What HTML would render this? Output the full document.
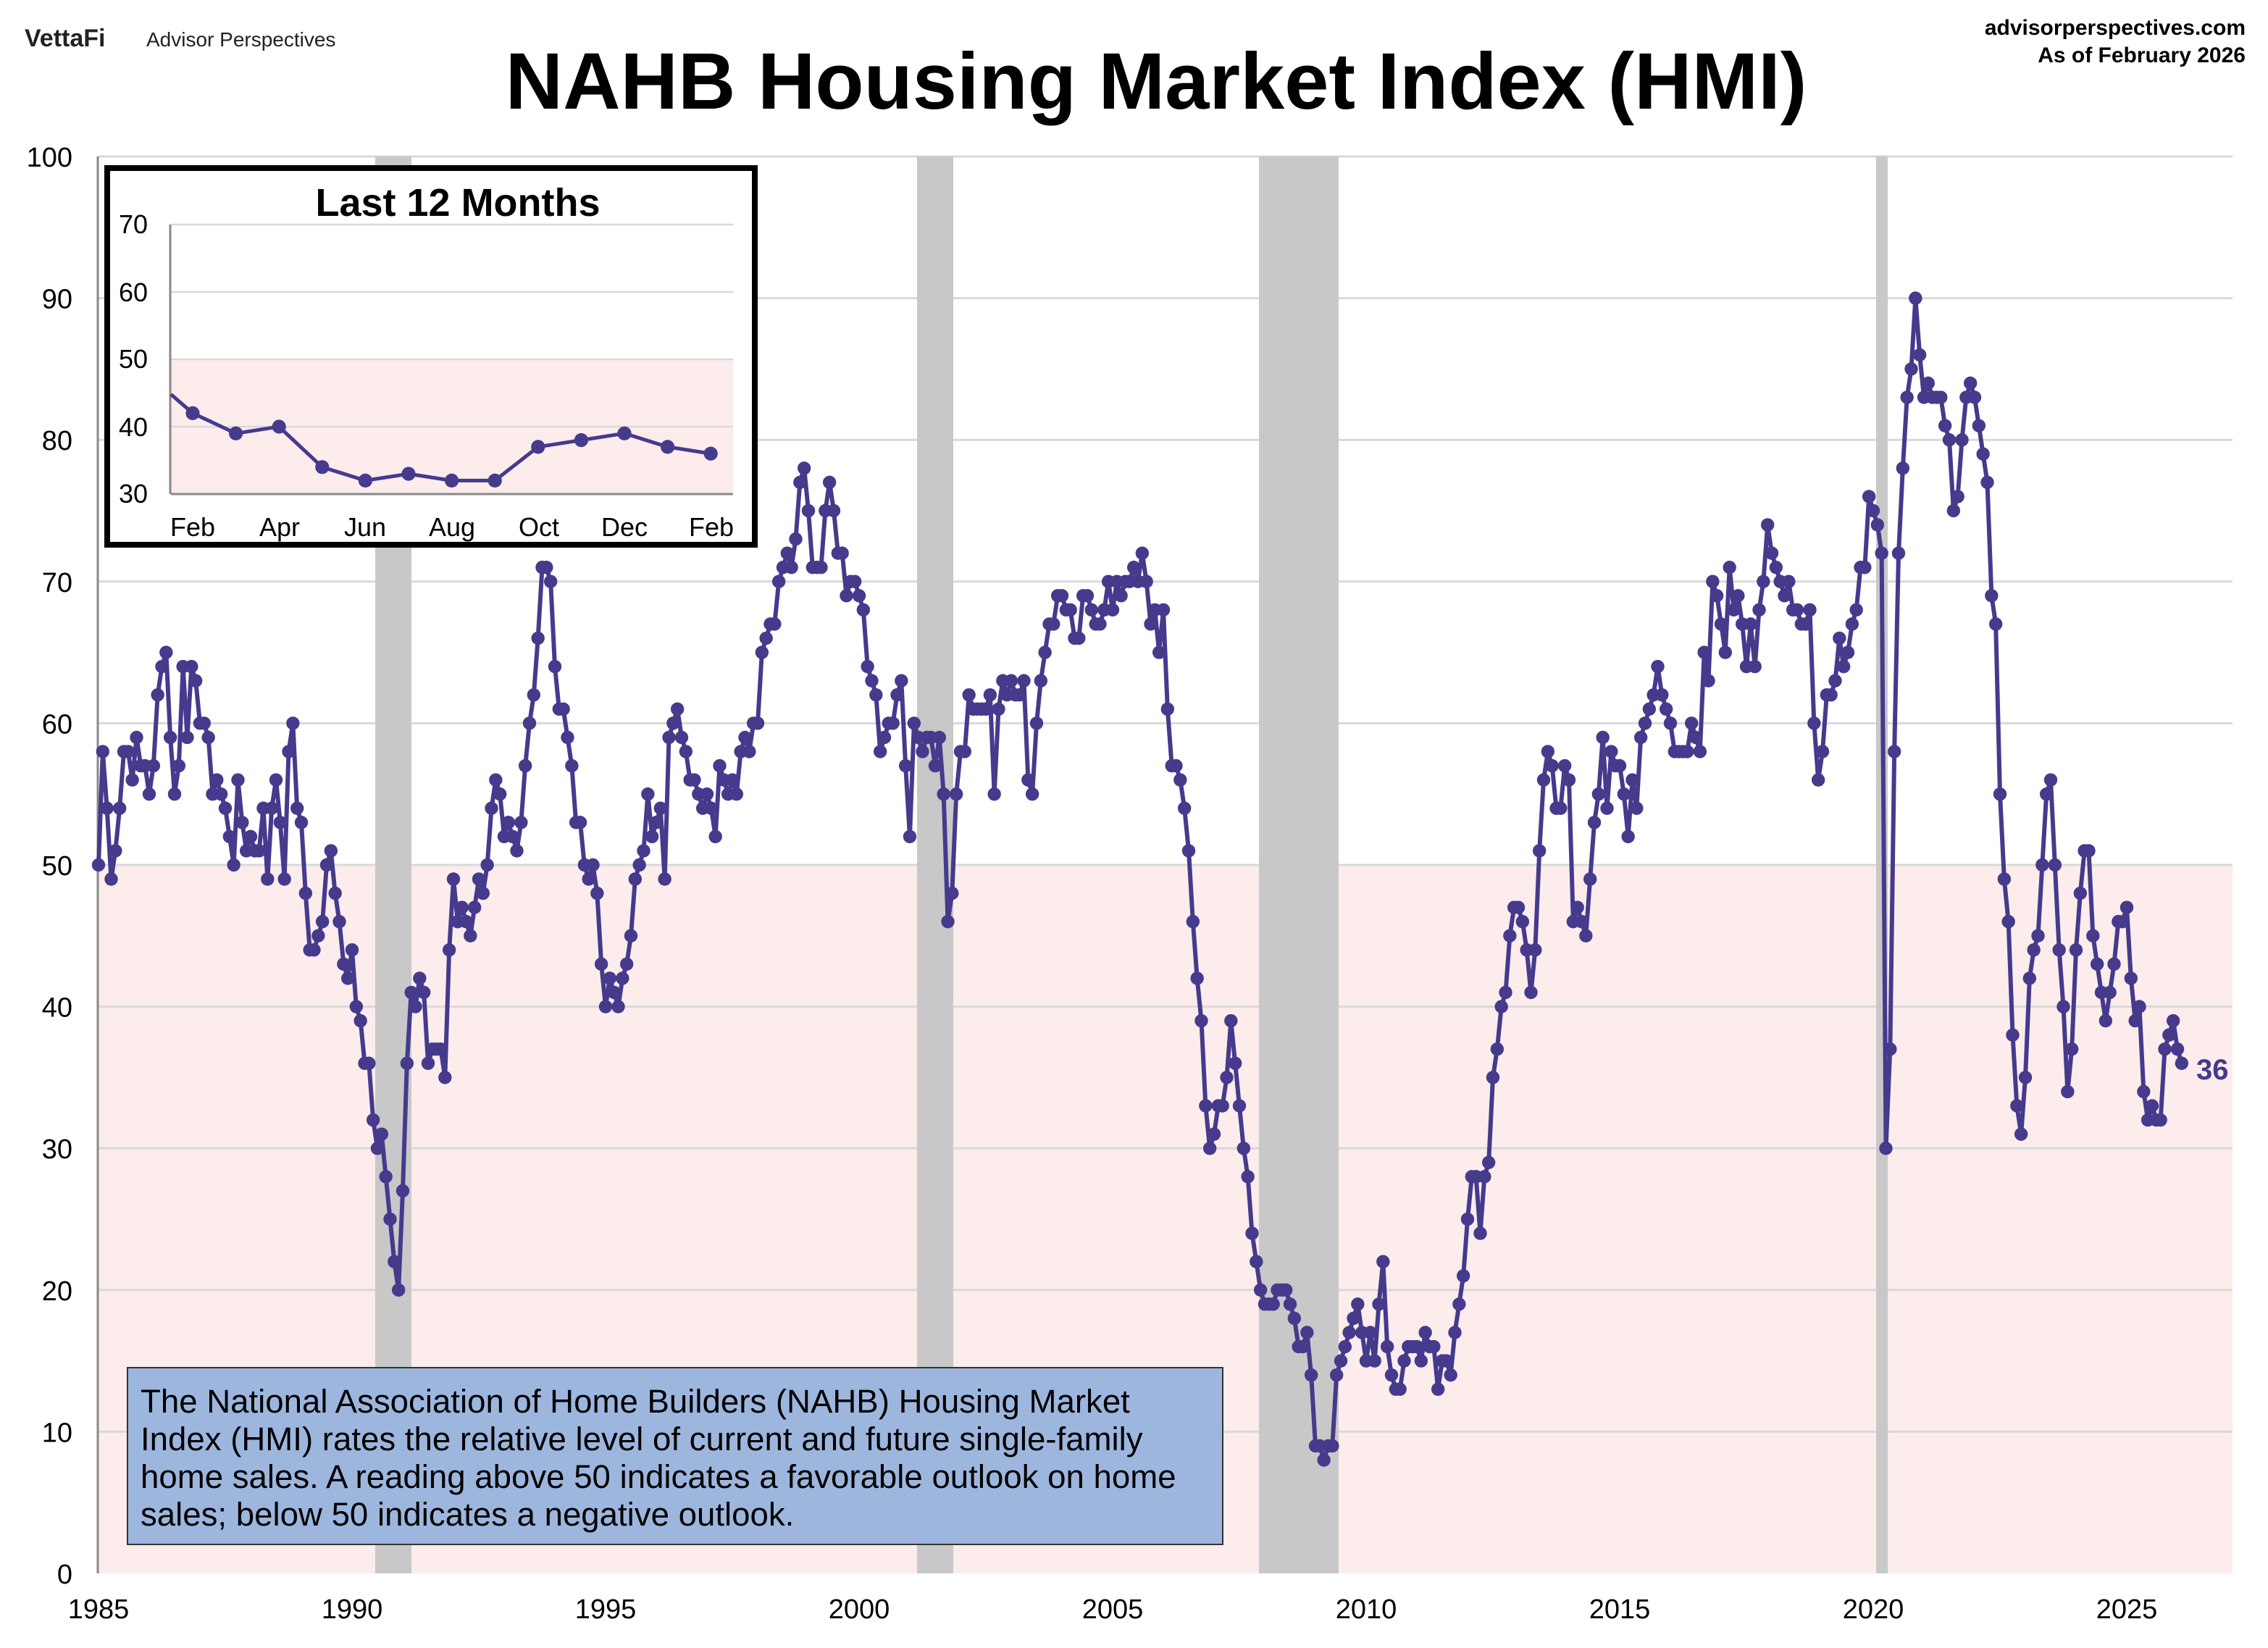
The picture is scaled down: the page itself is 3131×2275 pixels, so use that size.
<!DOCTYPE html>
<html><head><meta charset="utf-8">
<style>
html,body{margin:0;padding:0;background:#fff;}
svg{display:block;font-family:"Liberation Sans",Arial,sans-serif;}
</style></head>
<body>
<svg id="s" width="3131" height="2275" viewBox="0 0 1565.5 1137.5" xmlns="http://www.w3.org/2000/svg">
<rect x="0" y="0" width="1565.5" height="1137.5" fill="#fff"/>
<text x="17" y="32" font-size="17" font-weight="bold" fill="#222">VettaFi</text>
<text x="101" y="32" font-size="14" fill="#222">Advisor Perspectives</text>
<text x="798" y="75" font-size="55" font-weight="bold" text-anchor="middle" fill="#000">NAHB Housing Market Index (HMI)</text>
<text x="1550" y="24" font-size="15" font-weight="bold" text-anchor="end" fill="#000">advisorperspectives.com</text>
<text x="1550" y="43" font-size="15" font-weight="bold" text-anchor="end" fill="#000">As of February 2026</text>
<rect x="68" y="597.6" width="1473" height="488.4" fill="#fcecec"/>
<g id="grid" stroke="#d9d9d9" stroke-width="1.5"></g>
<g fill="#c8c8c8">
<rect x="259" y="108" width="25" height="978"/>
<rect x="633" y="108" width="25" height="978"/>
<rect x="869" y="108" width="55" height="978"/>
<rect x="1295" y="108" width="8" height="978"/>
</g>
<line x1="67.5" y1="108" x2="67.5" y2="1086" stroke="#888" stroke-width="1.5"/>
<g id="ylab" font-size="19" text-anchor="end" fill="#000"></g>
<g id="xlab" font-size="19" text-anchor="middle" fill="#000"></g>
<g id="series"></g>
<text x="1516" y="745" font-size="20" font-weight="bold" fill="#453a8c">36</text>
<rect x="88" y="944" width="756" height="122" fill="#9db6de" stroke="#333" stroke-width="1"/>
<g font-size="22.8" fill="#000">
<text x="97" y="975">The National Association of Home Builders (NAHB) Housing Market</text>
<text x="97" y="1001">Index (HMI) rates the relative level of current and future single-family</text>
<text x="97" y="1027">home sales. A reading above 50 indicates a favorable outlook on home</text>
<text x="97" y="1053">sales; below 50 indicates a negative outlook.</text>
</g>
<rect x="74" y="116" width="447" height="260" fill="#fff" stroke="#000" stroke-width="4"/>
<text x="316" y="149" font-size="27" font-weight="bold" text-anchor="middle">Last 12 Months</text>
<rect x="118" y="248" width="388" height="93" fill="#fcecec"/>
<g id="igrid" stroke="#d9d9d9" stroke-width="1.2"></g>
<line x1="117.5" y1="155" x2="117.5" y2="341" stroke="#888" stroke-width="1.5"/>
<line x1="118" y1="341" x2="506" y2="341" stroke="#888" stroke-width="1.5"/>
<g font-size="18" text-anchor="middle" fill="#000">
<text x="92" y="161">70</text><text x="92" y="208">60</text><text x="92" y="254">50</text><text x="92" y="301">40</text><text x="92" y="347">30</text>
<text x="133" y="370">Feb</text><text x="193" y="370">Apr</text><text x="252" y="370">Jun</text><text x="312" y="370">Aug</text><text x="372" y="370">Oct</text><text x="431" y="370">Dec</text><text x="491" y="370">Feb</text>
</g>
<g id="iseries"></g>
</svg>
<script>
var NS="http://www.w3.org/2000/svg";
function el(p,t,a){var e=document.createElementNS(NS,t);for(var k in a)e.setAttribute(k,a[k]);document.getElementById(p).appendChild(e);return e;}
var y0=1086,py=9.78;
for(var v=10;v<=100;v+=10){el("grid","line",{x1:68,x2:1541,y1:y0-v*py,y2:y0-v*py});}
for(var v=0;v<=100;v+=10){var t=el("ylab","text",{x:50,y:y0-v*py+7});t.textContent=v;}
for(var yr=1985;yr<=2025;yr+=5){var t=el("xlab","text",{x:68+(yr-1985)*35,y:1117});t.textContent=yr;}
var D=[
50,58,54,49,51,54,58,58,56,59,57,57,
55,57,62,64,65,59,55,57,64,59,64,63,
60,60,59,55,56,55,54,52,50,56,53,51,
52,51,51,54,49,54,56,53,49,58,60,54,
53,48,44,44,45,46,50,51,48,46,43,42,
44,40,39,36,36,32,30,31,28,25,22,20,
27,36,41,40,42,41,36,37,37,37,35,44,
49,46,47,46,45,47,49,48,50,54,56,55,
52,53,52,51,53,57,60,62,66,71,71,70,
64,61,61,59,57,53,53,50,49,50,48,43,
40,42,41,40,42,43,45,49,50,51,55,52,
53,54,49,59,60,61,59,58,56,56,55,54,
55,54,52,57,56,55,56,55,58,59,58,60,
60,65,66,67,67,70,71,72,71,73,77,78,
75,71,71,71,75,77,75,72,72,69,70,70,
69,68,64,63,62,58,59,60,60,62,63,57,
52,60,59,58,59,59,57,59,55,46,48,55,
58,58,62,61,61,61,61,62,55,61,63,62,
63,62,62,63,56,55,60,63,65,67,67,69,
69,68,68,66,66,69,69,68,67,67,68,70,
68,70,69,70,70,71,70,72,70,67,68,65,
68,61,57,57,56,54,51,46,42,39,33,30,
31,33,33,35,39,36,33,30,28,24,22,20,
19,19,19,20,20,20,19,18,16,16,17,14,
9,9,8,9,9,14,15,16,17,18,19,17,
15,17,15,19,22,16,14,13,13,15,16,16,
16,15,17,16,16,13,15,15,14,17,19,21,
25,28,28,24,28,29,35,37,40,41,45,47,
47,46,44,41,44,51,56,58,57,54,54,57,
56,46,47,46,45,49,53,55,59,54,58,57,
57,55,52,56,54,59,60,61,62,64,62,61,
60,58,58,58,58,60,59,58,65,63,70,69,
67,65,71,68,69,67,64,67,64,68,70,74,
72,71,70,69,70,68,68,67,67,68,60,56,
58,62,62,63,66,64,65,67,68,71,71,76,
75,74,72,30,37,58,72,78,83,85,90,86,
83,84,83,83,83,81,80,75,76,80,83,84,
83,81,79,77,69,67,55,49,46,38,33,31,
35,42,44,45,50,55,56,50,44,40,34,37,
44,48,51,51,45,43,41,39,41,43,46,46,
47,42,39,40,34,32,33,32,32,37,38,39,
37,36];
var pts=[];
for(var i=0;i<D.length;i++){pts.push([(68+i*35/12).toFixed(2),(y0-D[i]*py).toFixed(2)]);}
el("series","polyline",{points:pts.map(function(p){return p.join(",")}).join(" "),fill:"none",stroke:"#453a8c","stroke-width":3,"stroke-linejoin":"round"});
pts.forEach(function(p){el("series","circle",{cx:p[0],cy:p[1],r:4.6,fill:"#453a8c"});});
for(var v=40;v<=70;v+=10){var yy=341-(v-30)*4.65;el("igrid","line",{x1:118,x2:506,y1:yy,y2:yy});}
var I=[42,39,40,34,32,33,32,32,37,38,39,37,36];
var ip=[[118,341-(44.8-30)*4.65]];
for(var i=0;i<I.length;i++)ip.push([133+i*29.8,341-(I[i]-30)*4.65]);
el("iseries","polyline",{points:ip.map(function(p){return p.join(",")}).join(" "),fill:"none",stroke:"#453a8c","stroke-width":2.5});
ip.slice(1).forEach(function(p){el("iseries","circle",{cx:p[0],cy:p[1],r:4.8,fill:"#453a8c"});});
</script>
</body></html>
